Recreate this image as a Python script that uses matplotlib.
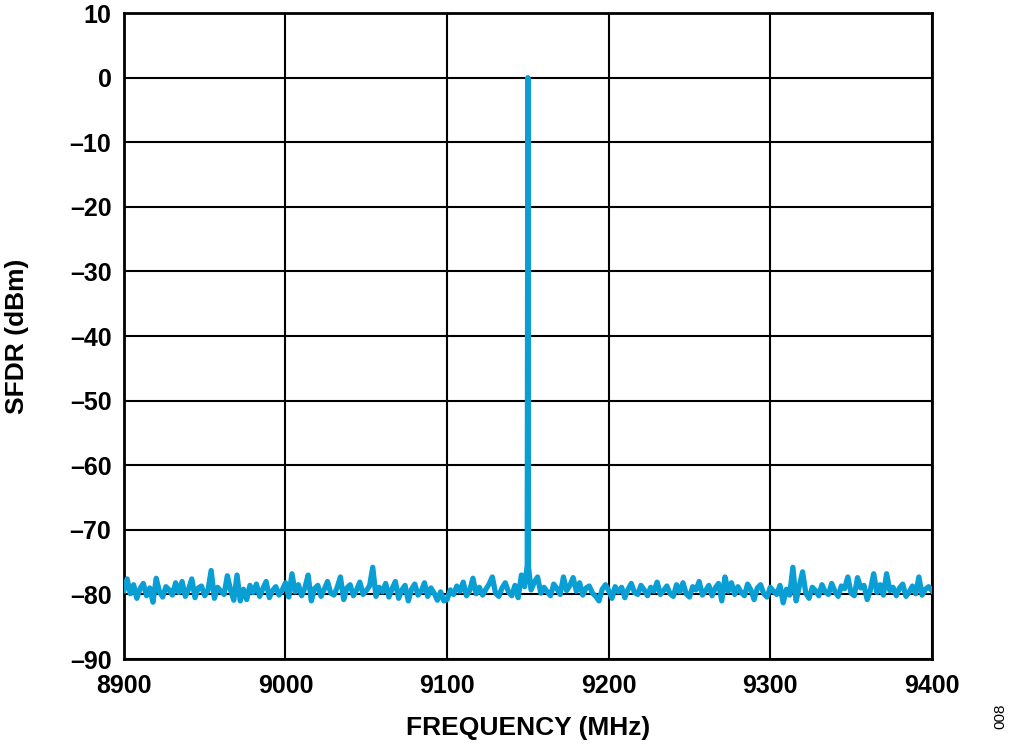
import matplotlib
matplotlib.use("Agg")
import matplotlib.pyplot as plt
from matplotlib.ticker import FuncFormatter
import numpy as np

plt.rcParams.update({
    "font.family": ["Liberation Sans", "DejaVu Sans"],
    "font.weight": "bold",
    "font.size": 18,
})

LINE_COLOR = "#0A9FD4"

# noise floor, 8900..9148 MHz every 2 MHz
noise_lo_dbm = [
    -79.4, -77.6, -79.9, -78.5, -80.6, -79.1, -78.3, -80.2, -79.0, -81.2,
    -77.5, -79.6, -80.4, -78.8, -79.3, -80.1, -78.2, -79.7, -78.0, -80.3,
    -79.2, -77.6, -80.5, -79.0, -78.7, -80.2, -79.4, -76.3, -80.6, -78.9,
    -79.5, -80.0, -77.1, -79.3, -80.9, -77.0, -81.0, -79.2, -80.8, -78.6,
    -79.7, -78.4, -80.3, -79.1, -78.0, -80.5, -79.4, -78.8, -80.1, -79.3,
    -78.2, -80.4, -76.8, -79.6, -78.5, -80.2, -79.0, -77.0, -81.0, -79.1,
    -78.6, -80.3, -79.2, -78.0, -79.8, -80.1, -78.9, -77.3, -80.8, -79.0,
    -78.5, -80.2, -79.3, -78.1, -80.0, -79.4, -78.7, -75.8, -80.3, -78.9,
    -79.6, -78.3, -80.4, -79.1, -78.0, -80.6, -79.3, -78.6, -81.0, -79.2,
    -78.4, -80.1, -79.5, -78.2, -80.3, -79.0, -79.8, -80.9, -79.6, -81.0,
    -80.8, -79.3, -80.0, -78.7, -79.5, -78.1, -80.2, -79.4, -77.5, -79.9,
    -78.9, -80.1, -79.2, -78.4, -77.3, -79.8, -80.3, -79.0, -78.2, -79.6,
    -80.2, -78.6, -80.5, -77.0, -78.8,
]

# noise floor, 9152..9400 MHz every 2 MHz
noise_hi_dbm = [
    -79.3, -78.1, -77.3, -79.8,
    -78.9, -79.6, -80.2, -78.4, -79.1, -80.0, -77.3, -79.4, -78.6, -77.4,
    -79.5, -78.2, -80.1, -79.0, -78.7, -79.8, -80.3, -81.0, -79.2, -78.5,
    -79.4, -80.6, -78.8, -79.6, -78.9, -80.5, -79.2, -78.3, -79.7, -80.0,
    -78.6, -79.3, -80.2, -78.9, -79.5, -78.1, -80.0, -79.4, -78.7, -79.9,
    -80.3, -78.5, -79.6, -78.2, -79.9, -80.4, -78.8, -79.3, -78.0, -80.1,
    -79.4, -78.6, -80.2, -79.0, -78.3, -81.0, -77.3, -79.5, -78.2, -80.0,
    -78.8, -79.7, -80.2, -78.4, -79.3, -80.8, -79.0, -78.5, -79.9, -80.4,
    -78.9, -79.5, -80.0, -78.6, -81.3, -79.2, -80.1, -75.8, -81.0, -78.7,
    -76.5, -79.8, -80.6, -78.9, -79.4, -80.2, -78.5, -79.6, -80.0, -78.3,
    -79.5, -80.3, -78.7, -79.1, -77.3, -79.8, -80.2, -77.4, -79.0, -78.6,
    -80.8, -79.3, -76.8, -79.7, -78.5, -80.1, -76.8, -79.4, -78.9, -80.2,
    -79.0, -78.4, -80.3, -79.6, -78.7, -79.9, -77.3, -80.1, -79.2, -78.8,
    -79.4,
]

# carrier tone
tone_freq = [9149.6, 9150.0, 9150.4]
tone_dbm = [-75.5, 0.0, -75.8]

freq = np.concatenate([np.arange(8900, 9150, 2), tone_freq, np.arange(9152, 9401, 2)])
dbm = np.concatenate([noise_lo_dbm, tone_dbm, noise_hi_dbm])

fig = plt.figure(figsize=(10.24, 7.5), dpi=100)
ax = fig.add_axes([0.121, 0.1213, 0.789, 0.8613])

ax.plot(freq, dbm, color=LINE_COLOR, lw=3.8, solid_joinstyle="round", zorder=3)

ax.set_xlim(8900, 9400)
ax.set_ylim(-90, 10)
ax.set_xticks(np.arange(8900, 9401, 100))
ax.set_yticks(np.arange(-90, 11, 10))
ax.yaxis.set_major_formatter(FuncFormatter(lambda v, p: f"{v:.0f}".replace("-", "\u2013")))
ax.grid(True, color="black", lw=1.5)
ax.set_axisbelow(True)
for s in ax.spines.values():
    s.set_linewidth(2)
ax.tick_params(axis="y", length=0, pad=9)
ax.tick_params(axis="x", length=0, pad=11)

ax.set_xlabel("FREQUENCY (MHz)", fontweight="bold", fontsize=19)
ax.set_ylabel("SFDR (dBm)", fontweight="bold", fontsize=19)
ax.xaxis.set_label_coords(0.5, -0.088)
ax.yaxis.set_label_coords(-0.117, 0.5)

fig.text(0.977, 0.045, "008", rotation=90, fontsize=11, fontweight="normal",
         ha="center", va="center")

fig.savefig("out.png", dpi=100)
